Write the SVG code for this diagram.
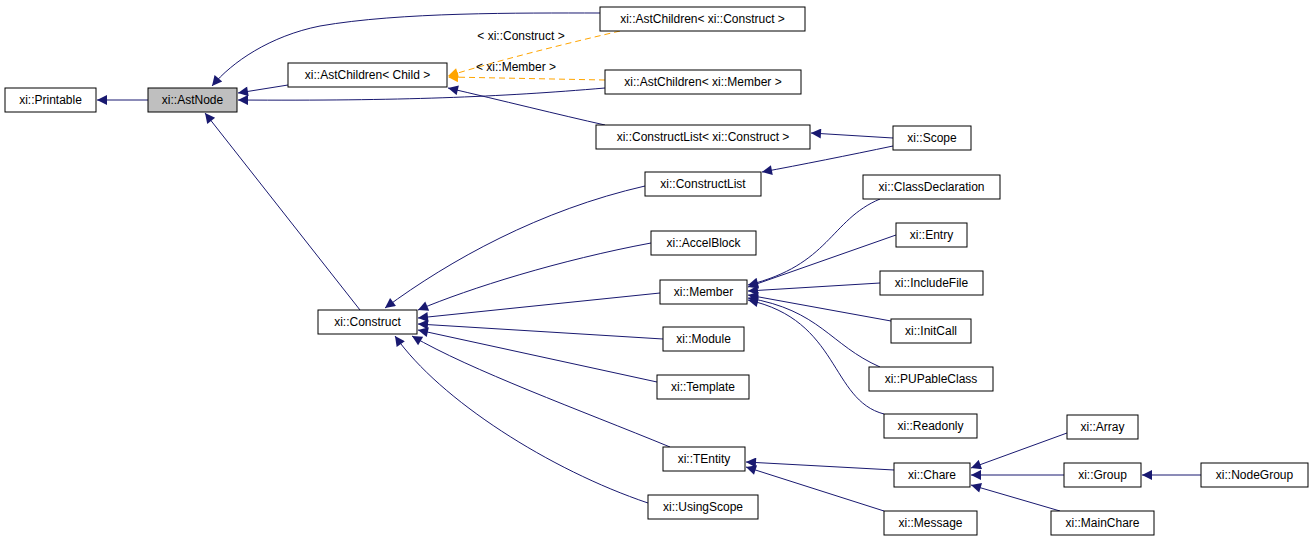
<svg xmlns="http://www.w3.org/2000/svg" width="1312" height="539" viewBox="0 0 1312 539">
<style>
.n rect{fill:#fff;stroke:#000;stroke-width:1}
.n text{font-family:"Liberation Sans",Arial,sans-serif;font-size:12px;text-anchor:middle;fill:#000}
.e path{fill:none;stroke:#191970;stroke-width:1;marker-end:url(#a)}
.e path.t{stroke:#ffa500;stroke-dasharray:6,4;marker-end:url(#o)}
.l{font-family:"Liberation Sans",Arial,sans-serif;font-size:12px;text-anchor:middle;fill:#000}
</style>
<defs>
<marker id="a" viewBox="0 0 10 10" refX="10" refY="5" markerWidth="12" markerHeight="10" markerUnits="userSpaceOnUse" orient="auto"><path d="M0,0L10,5L0,10z" fill="#191970"/></marker>
<marker id="o" viewBox="0 0 10 10" refX="10" refY="5" markerWidth="12" markerHeight="10" markerUnits="userSpaceOnUse" orient="auto"><path d="M0,0L10,5L0,10z" fill="#ffa500"/></marker>
</defs>
<rect width="1312" height="539" fill="#fff"/>
<g class="e">
<path d="M148,100L97,100"/>
<path d="M600,13C520,13 400,12 320,26C270,36 232,62 212,86"/>
<path d="M288,85L238,93"/>
<path d="M605,88C500,97 400,101 238,100"/>
<path d="M605,125C560,115 500,100 448,88"/>
<path d="M360,310L205,113"/>
<path d="M893,138L811,133"/>
<path d="M893,146C850,155 800,165 762,172"/>
<path d="M645,186C540,210 450,260 385,308"/>
<path d="M651,243C560,260 470,288 418,310"/>
<path d="M660,293L418,318"/>
<path d="M663,339L418,324"/>
<path d="M657,382L418,330"/>
<path d="M670,447C580,410 470,370 412,336"/>
<path d="M648,503C550,470 440,400 395,336"/>
<path d="M880,199C830,220 830,265 748,285"/>
<path d="M896,235L748,287"/>
<path d="M880,283L748,291"/>
<path d="M891,321L748,295"/>
<path d="M880,367C830,345 820,310 748,298"/>
<path d="M884,414C830,400 840,320 748,300"/>
<path d="M894,470L746,462"/>
<path d="M884,511L746,467"/>
<path d="M1067,433L971,468"/>
<path d="M1064,475L971,475"/>
<path d="M1060,511L971,485"/>
<path d="M1201,475L1142,475"/>
<path class="t" d="M620,31C560,45 500,60 448,76"/>
<path class="t" d="M605,80L448,77"/>
</g>
<text class="l" x="521" y="40">&lt; xi::Construct &gt;</text>
<text class="l" x="516" y="71">&lt; xi::Member &gt;</text>
<g id="printable" class="n"><rect x="5" y="88" width="91" height="24"/><text x="50.5" y="104">xi::Printable</text></g>
<g id="astnode" class="n"><rect x="148" y="88" width="89" height="24" style="fill:#bfbfbf"/><text x="192.5" y="104">xi::AstNode</text></g>
<g id="astchild" class="n"><rect x="288" y="63" width="159" height="24"/><text x="367.5" y="79">xi::AstChildren&lt; Child &gt;</text></g>
<g id="astchildcons" class="n"><rect x="600" y="7" width="205" height="24"/><text x="702.5" y="23">xi::AstChildren&lt; xi::Construct &gt;</text></g>
<g id="astchildmem" class="n"><rect x="605" y="70" width="196" height="24"/><text x="703" y="86">xi::AstChildren&lt; xi::Member &gt;</text></g>
<g id="clcons" class="n"><rect x="596" y="125" width="214" height="24"/><text x="703" y="141">xi::ConstructList&lt; xi::Construct &gt;</text></g>
<g id="scope" class="n"><rect x="893" y="126" width="78" height="24"/><text x="932" y="142">xi::Scope</text></g>
<g id="constructlist" class="n"><rect x="645" y="172" width="116" height="24"/><text x="703" y="188">xi::ConstructList</text></g>
<g id="accelblock" class="n"><rect x="651" y="231" width="105" height="24"/><text x="703.5" y="247">xi::AccelBlock</text></g>
<g id="member" class="n"><rect x="660" y="280" width="87" height="24"/><text x="703.5" y="296">xi::Member</text></g>
<g id="module" class="n"><rect x="663" y="327" width="81" height="24"/><text x="703.5" y="343">xi::Module</text></g>
<g id="template" class="n"><rect x="657" y="375" width="92" height="24"/><text x="703" y="391">xi::Template</text></g>
<g id="tentity" class="n"><rect x="663" y="447" width="82" height="24"/><text x="704" y="463">xi::TEntity</text></g>
<g id="usingscope" class="n"><rect x="648" y="495" width="110" height="24"/><text x="703" y="511">xi::UsingScope</text></g>
<g id="construct" class="n"><rect x="318" y="310" width="99" height="24"/><text x="367.5" y="326">xi::Construct</text></g>
<g id="classdecl" class="n"><rect x="863" y="175" width="137" height="24"/><text x="931.5" y="191">xi::ClassDeclaration</text></g>
<g id="entry" class="n"><rect x="896" y="223" width="71" height="24"/><text x="931.5" y="239">xi::Entry</text></g>
<g id="includefile" class="n"><rect x="880" y="271" width="103" height="24"/><text x="931.5" y="287">xi::IncludeFile</text></g>
<g id="initcall" class="n"><rect x="891" y="319" width="80" height="24"/><text x="931" y="335">xi::InitCall</text></g>
<g id="pupable" class="n"><rect x="869" y="367" width="124" height="24"/><text x="931" y="383">xi::PUPableClass</text></g>
<g id="readonly" class="n"><rect x="884" y="414" width="93" height="24"/><text x="930.5" y="430">xi::Readonly</text></g>
<g id="chare" class="n"><rect x="894" y="463" width="76" height="24"/><text x="932" y="479">xi::Chare</text></g>
<g id="message" class="n"><rect x="884" y="511" width="93" height="24"/><text x="930.5" y="527">xi::Message</text></g>
<g id="array" class="n"><rect x="1067" y="415" width="71" height="24"/><text x="1102.5" y="431">xi::Array</text></g>
<g id="group" class="n"><rect x="1064" y="463" width="77" height="24"/><text x="1102.5" y="479">xi::Group</text></g>
<g id="mainchare" class="n"><rect x="1051" y="511" width="103" height="24"/><text x="1102.5" y="527">xi::MainChare</text></g>
<g id="nodegroup" class="n"><rect x="1201" y="463" width="107" height="24"/><text x="1254.5" y="479">xi::NodeGroup</text></g>
</svg>
